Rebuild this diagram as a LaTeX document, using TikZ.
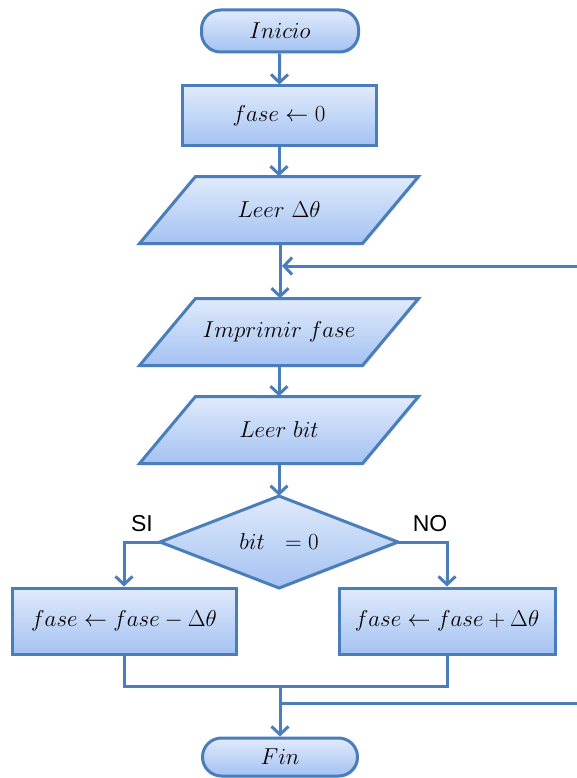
\RequirePackage{fix-cm}
\documentclass[tikz,border=0pt]{standalone}
\usepackage{fontspec}
\newfontfamily\labelfont{Liberation Sans}
\usetikzlibrary{shapes.geometric,arrows.meta,shadows}
\definecolor{edge}{HTML}{4A7EBB}
\definecolor{filltop}{HTML}{E0EAFB}
\definecolor{fillbot}{HTML}{A4C2F2}
\tikzset{
  shape line/.style={draw=edge, line width=3pt, top color=filltop, bottom color=fillbot,
    drop shadow={shadow xshift=1.5pt, shadow yshift=-1.5pt, opacity=0.25}},
  text size/.style={font=\fontsize{23}{27}\selectfont},
  shape base/.style={shape line, text size, inner sep=0pt},
  terminal/.style={shape base, rectangle, rounded corners=19pt},
  process/.style={shape base, rectangle},
  plain text/.style={rectangle, inner sep=0pt, text size},
  flow/.style={draw=edge, line width=3pt},
  arr/.style={flow, -{Straight Barb[length=8pt,width=17pt]}},
  branch label/.style={font=\labelfont\fontsize{23}{26}\selectfont, inner sep=0pt}
}
% input/output box: slanted outline, then a named node holding the text
\newcommand\iobox[4]{%
  \filldraw[shape line] (#2-83.5,#3-33.5) -- (#2+139.5,#3-33.5)
    -- (#2+83.5,#3+33.5) -- (#2-139.5,#3+33.5) -- cycle;
  \node[plain text, minimum width=279pt, minimum height=67pt] (#1) at (#2,#3) {#4};}
% decision: diamond outline, then a named node spanning it
\newcommand\decbox[4]{%
  \filldraw[shape line] (#2,#3-46) -- (#2+119,#3) -- (#2,#3+46) -- (#2-119,#3) -- cycle;
  \node[plain text, minimum width=238pt, minimum height=92pt] (#1) at (#2,#3) {#4};}
\begin{document}
\begin{tikzpicture}[x=1pt, y=-1pt]
\useasboundingbox (0,0) rectangle (577,778);

% nodes of the flow
\node[terminal, minimum width=157pt, minimum height=42pt] (ini) at (280,31) {$Inicio$};
\node[process, minimum width=194pt, minimum height=60pt] (f0) at (279,116) {$fase \leftarrow 0$};
\iobox{leer}{279}{210}{$Leer\ \Delta\theta$}
\iobox{imp}{279}{332}{$Imprimir\ fase$}
\iobox{lbit}{279}{430}{$Leer\ bit$}
\decbox{dec}{279}{542}{$bit\ \ = 0$}
\node[process, minimum width=224pt, minimum height=66pt] (lbox) at (124,621) {$fase \leftarrow fase - \Delta\theta$};
\node[process, minimum width=216pt, minimum height=66pt] (rbox) at (447,621) {$fase \leftarrow fase + \Delta\theta$};
\node[terminal, minimum width=155pt, minimum height=38pt] (fin) at (280,757) {$Fin$};

% branch labels
\node[branch label] (si) at (142,523.5) {SI};
\node[branch label] (no) at (430,523.5) {NO};

% helper points for joins and the loop
\coordinate (join) at (280,266);
\coordinate (loopin) at (577,266);
\coordinate (merge) at (280,686);
\coordinate (tap) at (280,703);
\coordinate (loopout) at (577,703);

% connectors
\draw[arr] (ini) -- (f0);
\draw[arr] (f0) -- (leer);
\draw[arr] (leer.south -| join) -- (imp.north -| join);
\draw[arr, shorten >=2pt] (loopin) -- (join);
\draw[arr] (imp) -- (lbit);
\draw[arr] (lbit) -- (dec);
\draw[arr] (dec.west) -| (lbox.north);
\draw[arr] (dec.east) -| (rbox.north);
\draw[flow] (lbox.south) -- (lbox.south |- merge) -- (rbox.south |- merge) -- (rbox.south);
\draw[arr] (merge) -- (fin);
\draw[flow] (tap) -- (loopout);
\end{tikzpicture}
\end{document}
